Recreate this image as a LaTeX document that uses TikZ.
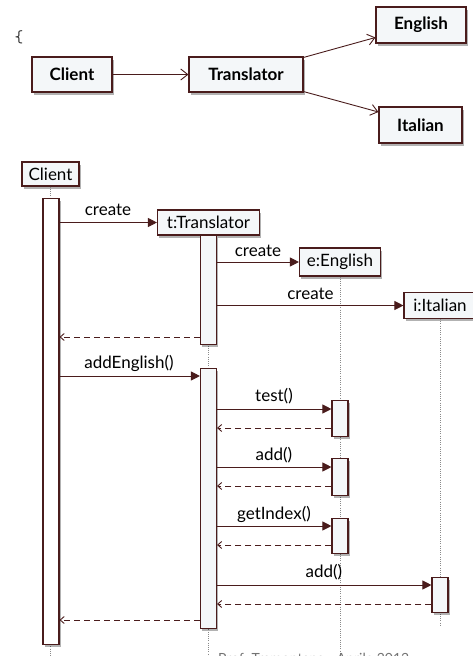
\documentclass[tikz,border=0pt]{standalone}
\usepackage{fontspec}
\setmainfont{Lato}
\usetikzlibrary{arrows.meta,shadows}
\definecolor{brd}{HTML}{4A1C1C}
\definecolor{boxfill}{HTML}{F4F7F9}
\definecolor{lifegray}{HTML}{8A8A8A}
\begin{document}
\begin{tikzpicture}[x=1pt,y=-1pt,
  shad/.style={drop shadow={shadow xshift=1.5pt,shadow yshift=-2.5pt,opacity=0.3,fill=black}},
  topbox/.style={draw=brd,line width=1.1pt,fill=boxfill,shad,font=\fontsize{17}{20}\selectfont\bfseries,inner sep=0pt},
  objbox/.style={draw=brd,line width=1.1pt,fill=boxfill,shad,font=\fontsize{17}{20}\selectfont,inner sep=0pt},
  bar/.style={draw=brd,line width=1.1pt,fill=boxfill,shad,inner sep=0pt,minimum width=16pt},
  assoc/.style={draw=brd,line width=0.9pt,-{Straight Barb[length=7pt,width=11pt]}},
  msg/.style={draw=brd,line width=1pt,-{Triangle[length=9pt,width=9pt]}},
  ret/.style={draw=brd,line width=0.9pt,dash pattern=on 6pt off 4pt,-{Straight Barb[length=4pt,width=7pt]}},
  life/.style={draw=lifegray,line width=0.6pt,dash pattern=on 0.6pt off 1.6pt},
  lbl/.style={font=\fontsize{17}{20}\selectfont,anchor=base,inner sep=0pt,text=black}
]
\useasboundingbox (0,0) rectangle (473,656);
\clip (0,0) rectangle (473,656);

% fragment at left
\node[font=\fontsize{17}{20}\selectfont\ttfamily,text=black!85] (brace) at (19,37) {\{};

% ---------- class diagram ----------
\node[topbox,minimum width=80pt,minimum height=35pt] (client) at (72,74.5) {Client};
\node[topbox,minimum width=114pt,minimum height=35pt] (trans) at (246,74.5) {Translator};
\node[topbox,minimum width=90pt,minimum height=36pt] (eng) at (421,25) {English};
\node[topbox,minimum width=83pt,minimum height=36pt] (ita) at (420.5,125) {Italian};
\draw[assoc] (client) -- (trans);
\draw[assoc] (trans.north east) ++(0,1) coordinate (te) -- (eng.west |- 0,37.5);
\draw[assoc] (trans.south east) ++(0,-1) coordinate (ti) -- (ita.west |- 0,112);

% ---------- sequence diagram ----------
\node[objbox,minimum width=57pt,minimum height=24pt] (cobj) at (50.5,174) {Client};
\node[objbox,minimum width=102pt,minimum height=25pt] (tobj) at (208.5,222.5) {t:Translator};
\node[objbox,minimum width=81pt,minimum height=28pt] (eobj) at (340,262) {e:English};
\node[objbox,minimum width=72pt,minimum height=26pt] (iobj) at (440,305.5) {i:Italian};

% lifelines
\draw[life] (cobj.south) -- (cobj.south |- 0,656);
\draw[life] (tobj.south) -- (tobj.south |- 0,656);
\draw[life] (eobj.south) -- (eobj.south |- 0,656);
\draw[life] (iobj.south) -- (iobj.south |- 0,625);

% activation bars
\node[bar,fill=white,minimum height=446pt,anchor=north] (cbar) at (51,198) {};
\node[bar,minimum height=109pt,anchor=north] (tbar1) at (208.5,235) {};
\node[bar,minimum height=260pt,anchor=north] (tbar2) at (208.5,368) {};
\node[bar,minimum height=36pt,anchor=north] (ebar1) at (340,400) {};
\node[bar,minimum height=37pt,anchor=north] (ebar2) at (340,458) {};
\node[bar,minimum height=35pt,anchor=north] (ebar3) at (340,518) {};
\node[bar,minimum height=35pt,anchor=north] (ibar) at (440,577) {};

% messages
\draw[msg] (cbar.east |- tobj.west) -- (tobj.west);
\node[lbl] (l1) at (108,215) {create};
\draw[msg] (tbar1.east |- eobj.west) -- (eobj.west);
\node[lbl] (l2) at (258,256) {create};
\draw[msg] (tbar1.east |- iobj.west) -- (iobj.west);
\node[lbl] (l3) at (310.5,299) {create};
\draw[ret] (tbar1.west |- 0,337) -- (cbar.east |- 0,337);

\draw[msg] (cbar.east |- 0,376) -- (tbar2.west |- 0,376);
\node[lbl] (l4) at (129,368) {addEnglish()};

\draw[msg] (tbar2.east |- 0,409) -- (ebar1.west |- 0,409);
\node[lbl] (l5) at (274,401) {test()};
\draw[ret] (ebar1.west |- 0,428) -- (tbar2.east |- 0,428);

\draw[msg] (tbar2.east |- 0,467) -- (ebar2.west |- 0,467);
\node[lbl] (l6) at (274,460) {add()};
\draw[ret] (ebar2.west |- 0,486) -- (tbar2.east |- 0,486);

\draw[msg] (tbar2.east |- 0,526) -- (ebar3.west |- 0,526);
\node[lbl] (l7) at (274,519) {getIndex()};
\draw[ret] (ebar3.west |- 0,545) -- (tbar2.east |- 0,545);

\draw[msg] (tbar2.east |- 0,585) -- (ibar.west |- 0,585);
\node[lbl] (l8) at (324,577) {add()};
\draw[ret] (ibar.west |- 0,604) -- (tbar2.east |- 0,604);

\draw[ret] (tbar2.west |- 0,620) -- (cbar.east |- 0,620);

% footer (cut off at the lower edge, as in the reference)
\node[font=\fontsize{14}{16}\selectfont,text=black!55,anchor=base west,inner sep=0pt] (foot) at (218,663) {Prof. Tramontana - Aprile 2012};
\end{tikzpicture}
\end{document}
